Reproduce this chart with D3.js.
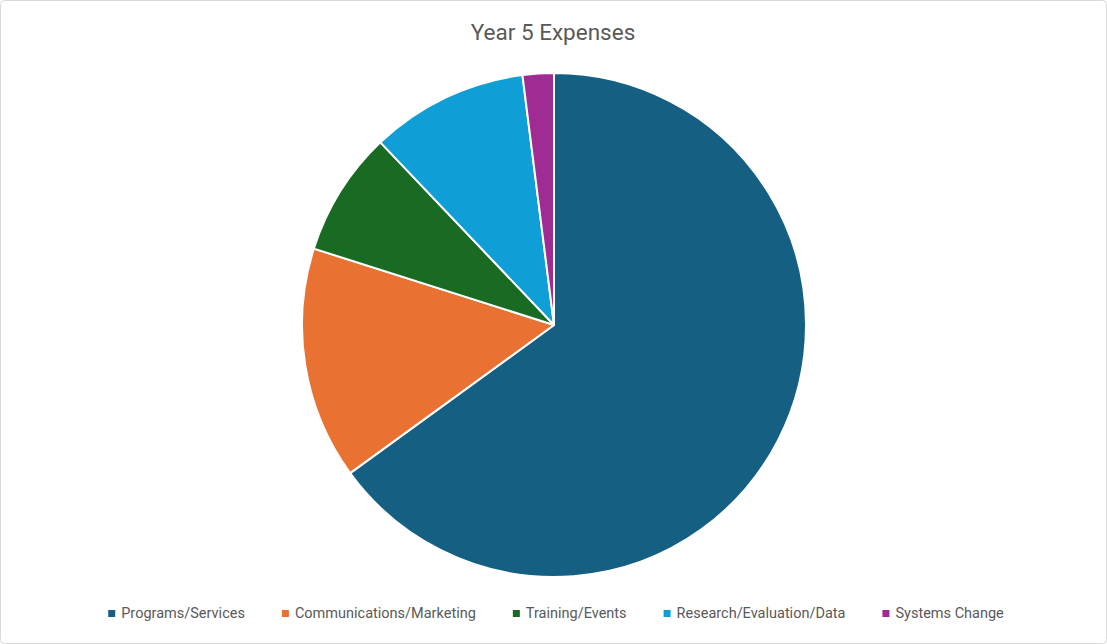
<!DOCTYPE html>
<html>
<head>
<meta charset="utf-8">
<script src="https://cdn.jsdelivr.net/npm/d3@7"></script>
<style>
  body { margin: 0; background: #fff; }
  text { font-family: Roboto, "Noto Sans", sans-serif; }
</style>
</head>
<body>
<div id="chart-area"></div>
<script>
// Year 5 expenses, share of total (%)
const categories = ["Programs/Services", "Communications/Marketing", "Training/Events", "Research/Evaluation/Data", "Systems Change"];
const values = [65, 14.9, 8, 10.1, 2];
const colors = ["#156082", "#E97132", "#196B24", "#0F9ED5", "#A02B93"];

const w = 1107;
const h = 644;

let svg = d3.select("#chart-area")
  .append("svg")
  .attr("width", w)
  .attr("height", h);

svg.append("rect")
  .attr("x", 0.5).attr("y", 0.5)
  .attr("width", w - 1).attr("height", h - 1)
  .attr("rx", 4)
  .attr("fill", "#fff")
  .attr("stroke", "#d9d9d9");

svg.append("text")
  .attr("x", 553)
  .attr("y", 40)
  .attr("text-anchor", "middle")
  .attr("font-size", "22.5px")
  .attr("fill", "#595959")
  .text("Year 5 Expenses");

const cx = 554, cy = 325, r = 252;

let pie = d3.pie().sort(null).value(d => d);
let arc = d3.arc().innerRadius(0).outerRadius(r);

let g = svg.append("g")
  .attr("transform", "translate(" + cx + "," + cy + ")");

g.selectAll("path")
  .data(pie(values))
  .enter().append("path")
  .attr("d", arc)
  .attr("fill", (d, i) => colors[i])
  .attr("stroke", "#fff")
  .attr("stroke-width", 2)
  .attr("stroke-linejoin", "round");

// legend
let legend = svg.append("g");
let items = legend.selectAll("g")
  .data(categories)
  .enter().append("g");

items.append("rect")
  .attr("y", -8)
  .attr("width", 7)
  .attr("height", 7)
  .attr("fill", (d, i) => colors[i]);

items.append("text")
  .attr("x", 13)
  .attr("y", 0)
  .attr("font-size", "14.5px")
  .attr("fill", "#595959")
  .text(d => d);

let xPos = 0;
items.each(function () {
  const item = d3.select(this);
  item.attr("transform", "translate(" + xPos + ",0)");
  xPos += 13 + item.select("text").node().getComputedTextLength() + 37;
});
const total = xPos - 37;
legend.attr("transform", "translate(" + (556 - total / 2) + ",618)");
</script>
</body>
</html>
